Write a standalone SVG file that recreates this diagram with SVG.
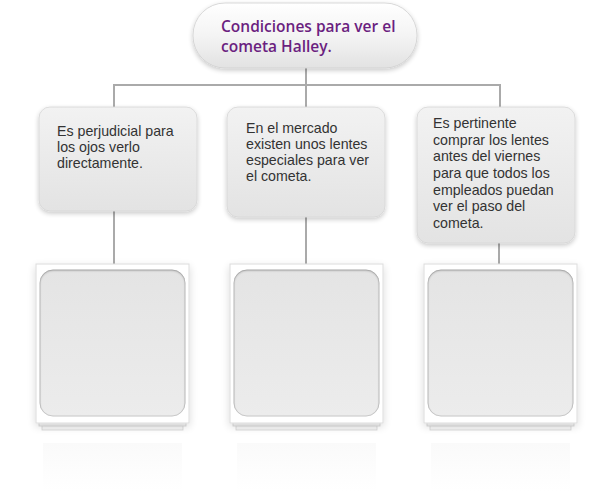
<svg xmlns="http://www.w3.org/2000/svg" width="614" height="497" viewBox="0 0 614 497">
<defs>
<linearGradient id="gPill" x1="0" y1="0" x2="0" y2="1">
<stop offset="0" stop-color="#ffffff"/>
<stop offset="0.5" stop-color="#f4f4f4"/>
<stop offset="1" stop-color="#e2e2e2"/>
</linearGradient>
<linearGradient id="gBox" x1="0" y1="0" x2="0" y2="1">
<stop offset="0" stop-color="#f2f2f2"/>
<stop offset="1" stop-color="#e3e3e3"/>
</linearGradient>
<linearGradient id="gInner" x1="0" y1="0" x2="0" y2="1">
<stop offset="0" stop-color="#e4e4e4"/>
<stop offset="1" stop-color="#ececec"/>
</linearGradient>
<linearGradient id="gRefl" x1="0" y1="0" x2="0" y2="1">
<stop offset="0" stop-color="#fafafa"/>
<stop offset="1" stop-color="#ffffff"/>
</linearGradient>
<filter id="sh" x="-20%" y="-20%" width="140%" height="150%">
<feGaussianBlur in="SourceAlpha" stdDeviation="2.5"/>
<feOffset dy="2" result="b"/>
<feComponentTransfer><feFuncA type="linear" slope="0.22"/></feComponentTransfer>
<feMerge><feMergeNode/><feMergeNode in="SourceGraphic"/></feMerge>
</filter>
<filter id="shF" x="-20%" y="-20%" width="140%" height="150%">
<feGaussianBlur in="SourceAlpha" stdDeviation="4"/>
<feOffset dy="3"/>
<feComponentTransfer><feFuncA type="linear" slope="0.15"/></feComponentTransfer>
<feMerge><feMergeNode/><feMergeNode in="SourceGraphic"/></feMerge>
</filter>
<filter id="inset" x="-10%" y="-10%" width="120%" height="120%">
<feFlood flood-color="#000" flood-opacity="0.5"/>
<feComposite in2="SourceAlpha" operator="out"/>
<feGaussianBlur stdDeviation="1.2"/>
<feOffset dy="1" result="s"/>
<feComposite in2="SourceAlpha" operator="in"/>
<feComposite in2="SourceGraphic" operator="over"/>
</filter>
</defs>
<style>
.ln{stroke:#aaaaaa;stroke-width:2;fill:none}
.box{fill:url(#gBox);stroke:#d6d6d6;stroke-width:0.8;filter:url(#sh)}
.txt{font-family:"Liberation Sans",Arial,sans-serif;font-size:14.2px;fill:#333333}
.ttl{font-family:"Open Sans","Noto Sans",sans-serif;font-weight:600;font-size:15.5px;fill:#6b1f80}
.frame{fill:#ffffff;stroke:#dcdcdc;stroke-width:1;filter:url(#shF)}
.inner{fill:url(#gInner);stroke:#c4c4c4;stroke-width:0.8;filter:url(#inset)}
.pg{fill:#f6f6f6;stroke:#d4d4d4;stroke-width:0.8}
.refl{fill:url(#gRefl)}
</style>
<rect width="614" height="497" fill="#ffffff"/>

<g id="connectors">
<line class="ln" x1="306" y1="66" x2="306" y2="108"/>
<line class="ln" x1="113" y1="85" x2="501" y2="85"/>
<line class="ln" x1="114" y1="85" x2="114" y2="108"/>
<line class="ln" x1="500" y1="85" x2="500" y2="108"/>
<line class="ln" x1="114" y1="210" x2="114" y2="265"/>
<line class="ln" x1="306" y1="216" x2="306" y2="265"/>
<line class="ln" x1="499" y1="242" x2="499" y2="265"/>
</g>

<g id="title">
<rect x="193" y="3" width="224" height="65" rx="32" ry="32" fill="url(#gPill)" stroke="#cfcfcf" stroke-width="0.8" filter="url(#sh)"/>
<text class="ttl" x="221" y="32">Condiciones para ver el</text>
<text class="ttl" x="221" y="52">cometa Halley.</text>
</g>

<g id="box1">
<rect class="box" x="39" y="107" width="158" height="104" rx="11"/>
<text class="txt" x="57" y="136">Es perjudicial para</text>
<text class="txt" x="57" y="152">los ojos verlo</text>
<text class="txt" x="57" y="168">directamente.</text>
</g>

<g id="box2">
<rect class="box" x="227" y="107" width="158" height="110" rx="11"/>
<text class="txt" x="246" y="133">En el mercado</text>
<text class="txt" x="246" y="149">existen unos lentes</text>
<text class="txt" x="246" y="165">especiales para ver</text>
<text class="txt" x="246" y="181">el cometa.</text>
</g>

<g id="box3">
<rect class="box" x="417" y="107" width="158" height="136" rx="11"/>
<text class="txt" x="433" y="128">Es pertinente</text>
<text class="txt" x="433" y="145">comprar los lentes</text>
<text class="txt" x="433" y="161">antes del viernes</text>
<text class="txt" x="433" y="178">para que todos los</text>
<text class="txt" x="433" y="195">empleados puedan</text>
<text class="txt" x="433" y="211">ver el paso del</text>
<text class="txt" x="433" y="228">cometa.</text>
</g>

<g id="frame1">
<rect class="refl" x="43" y="443" width="139" height="48"/>
<rect class="pg" x="42" y="424" width="141" height="6"/>
<rect class="pg" x="39" y="421" width="147" height="5"/>
<rect class="frame" x="36" y="264" width="153" height="159"/>
<rect class="inner" x="40" y="270" width="145" height="146" rx="13"/>
</g>

<g id="frame2">
<rect class="refl" x="237" y="443" width="139" height="48"/>
<rect class="pg" x="236" y="424" width="141" height="6"/>
<rect class="pg" x="233" y="421" width="147" height="5"/>
<rect class="frame" x="230" y="264" width="153" height="159"/>
<rect class="inner" x="234" y="270" width="145" height="146" rx="13"/>
</g>

<g id="frame3">
<rect class="refl" x="431" y="443" width="139" height="48"/>
<rect class="pg" x="430" y="424" width="141" height="6"/>
<rect class="pg" x="427" y="421" width="147" height="5"/>
<rect class="frame" x="424" y="264" width="153" height="159"/>
<rect class="inner" x="428" y="270" width="145" height="146" rx="13"/>
</g>
</svg>
